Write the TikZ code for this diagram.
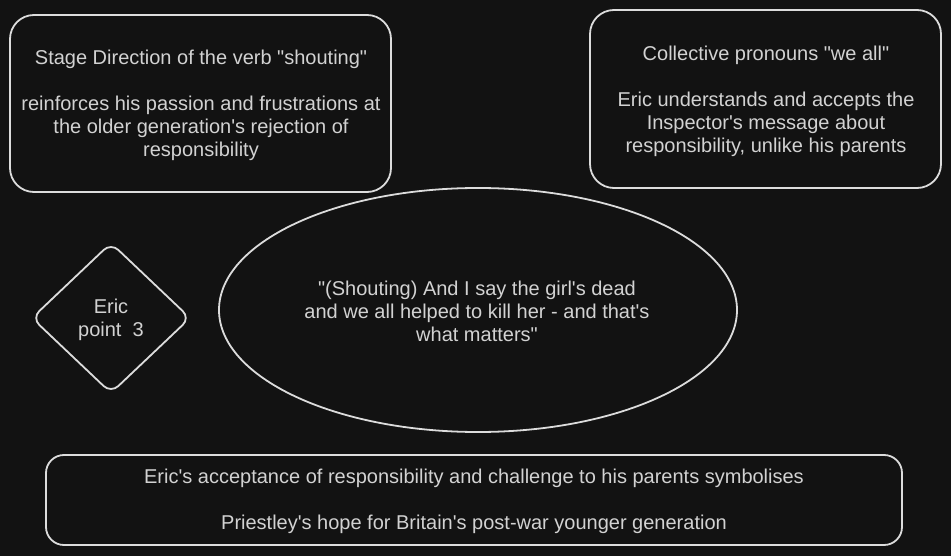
\documentclass[tikz,border=0pt]{standalone}
\usepackage{fontspec}
\newfontfamily\arialf{Liberation Sans}
\usetikzlibrary{shapes.geometric}
\definecolor{bg}{HTML}{121212}
\definecolor{strokec}{HTML}{DCDCDC}
\definecolor{txt}{HTML}{D2D2D2}
\begin{document}
\begin{tikzpicture}[x=1pt,y=-1pt,
  shapebox/.style={draw=strokec, line width=1.8pt, fill=bg, inner sep=0pt},
  lbl/.style={text=txt, font=\arialf\fontsize{20}{23}\selectfont, align=center, inner sep=0pt}]
\fill[bg] (0,0) rectangle (951,556);
\useasboundingbox (0,0) rectangle (951,556);

\node[shapebox, rounded corners=24pt, minimum width=381pt, minimum height=177pt] (stage) at (200.5,103.5) {};
\node[lbl] (stagetext) at (201,105.5)
  {Stage Direction of the verb "shouting"\\[23pt]reinforces his passion and frustrations at\\the older generation's rejection of\\responsibility};

\node[shapebox, rounded corners=24pt, minimum width=351pt, minimum height=178pt] (collective) at (765.5,99) {};
\node[lbl] (collectivetext) at (766,101)
  {Collective pronouns "we all"\\[23pt]Eric understands and accepts the\\Inspector's message about\\responsibility, unlike his parents};

\draw[draw=strokec, line width=1.8pt, fill=bg, rounded corners=10pt]
  (111,243) -- (190,318) -- (111,393) -- (32,318) -- cycle;
\node[lbl] (eric) at (111,320) {Eric\\point\ \ 3};

\node[shapebox, ellipse, minimum width=518pt, minimum height=244pt] (quote) at (478,310) {};
\node[lbl] (quotetext) at (477,311.5)
  {"(Shouting) And I say the girl's dead\\and we all helped to kill her - and that's\\what matters"};

\node[shapebox, rounded corners=18pt, minimum width=856pt, minimum height=90pt] (summary) at (474,500) {};
\node[lbl] (summarytext) at (474,501.5)
  {Eric's acceptance of responsibility and challenge to his parents symbolises\\[23pt]Priestley's hope for Britain's post-war younger generation};
\end{tikzpicture}
\end{document}
